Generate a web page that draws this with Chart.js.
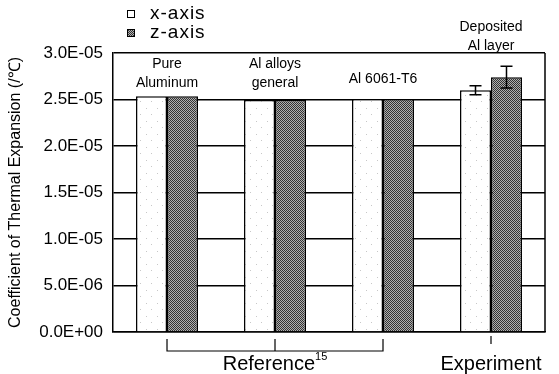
<!DOCTYPE html>
<html>
<head>
<meta charset="utf-8">
<script src="https://cdn.jsdelivr.net/npm/chart.js@4.4.1/dist/chart.umd.min.js"></script>
<style>
  body { margin: 0; background: #fff; }
  #wrap { width: 559px; height: 374px; position: relative; }
</style>
</head>
<body>
<div id="wrap"><canvas id="grafico"></canvas></div>
<script>
// data
const categories = [['Pure', 'Aluminum'], ['Al alloys', 'general'], ['Al 6061-T6'], ['Deposited', 'Al layer']];
const xAxisValues = [2.535e-5, 2.495e-5, 2.505e-5, 2.60e-5];
const zAxisValues = [2.535e-5, 2.495e-5, 2.505e-5, 2.74e-5];
const xAxisErrors = [0, 0, 0, 0.048e-5];
const zAxisErrors = [0, 0, 0, 0.117e-5];
const yTicks = [0, 5e-6, 1e-5, 1.5e-5, 2e-5, 2.5e-5, 3e-5];
const groupNames = ['Reference', 'Experiment'];
const groupSup = ['15', ''];
const groupStart = [0, 3];
const groupEnd = [2, 3];

const FONT = '"Liberation Sans", Arial, sans-serif';
// gap between the taller bar and the last label line, px
const labelGap = [13, 17, 20, 31];

function makePattern(dark) {
    const c = document.createElement('canvas');
    const g = c.getContext('2d');
    if (dark) {
        c.width = 4; c.height = 4;
        g.fillStyle = '#b0b0b0';
        g.fillRect(0, 0, 4, 4);
        g.fillStyle = '#333';
        for (let i = 0; i < 4; i++) {
            g.fillRect(i, i, 1, 1);
            g.fillRect((i + 2) % 4, i, 1, 1);
        }
    } else {
        c.width = 11; c.height = 13;
        g.fillStyle = '#ffffff';
        g.fillRect(0, 0, 11, 13);
        g.fillStyle = '#c8c8c8';
        g.fillRect(3, 4, 1, 1);
        g.fillRect(8, 10, 1, 1);
    }
    return g.createPattern(c, 'repeat');
}

const fillX = makePattern(false);
const fillZ = makePattern(true);

function sci(v) {
    if (Math.abs(v) < 1e-12) return '0.0E+00';
    const s = v.toExponential(1).toUpperCase();
    const parts = s.split('E');
    const e = parseInt(parts[1], 10);
    const sign = e < 0 ? '-' : '+';
    return parts[0] + 'E' + sign + String(Math.abs(e)).padStart(2, '0');
}

const extras = {
    id: 'extras',
    afterDatasetsDraw(chart) {
        const c = chart.ctx;
        const area = chart.chartArea;
        const xs = chart.scales.x;
        const ys = chart.scales.y;
        c.save();
        c.strokeStyle = '#000';
        c.fillStyle = '#000';

        // right side of the frame
        c.lineWidth = 1.5;
        c.beginPath();
        c.moveTo(area.right, area.top);
        c.lineTo(area.right, area.bottom);
        c.stroke();

        // error bars
        const errs = [xAxisErrors, zAxisErrors];
        chart.data.datasets.forEach((ds, di) => {
            const meta = chart.getDatasetMeta(di);
            meta.data.forEach((bar, i) => {
                const e = errs[di][i];
                if (!e) return;
                const v = ds.data[i];
                const yTop = ys.getPixelForValue(v + e);
                const yBot = ys.getPixelForValue(v - e);
                c.lineWidth = 1.5;
                c.beginPath();
                c.moveTo(bar.x, yTop); c.lineTo(bar.x, yBot);
                c.moveTo(bar.x - 6, yTop); c.lineTo(bar.x + 6, yTop);
                c.moveTo(bar.x - 6, yBot); c.lineTo(bar.x + 6, yBot);
                c.stroke();
            });
        });

        // category names above the bars
        c.font = '14px ' + FONT;
        c.textAlign = 'center';
        c.textBaseline = 'middle';
        categories.forEach((lines, i) => {
            const x = xs.getPixelForValue(i);
            const top = ys.getPixelForValue(Math.max(xAxisValues[i], zAxisValues[i]));
            const n = lines.length;
            lines.forEach((t, k) => {
                c.fillText(t, x, top - labelGap[i] - (n - 1 - k) * 19);
            });
        });

        // group brackets under the axis
        c.lineWidth = 1.2;
        groupNames.forEach((name, gi) => {
            const x0 = xs.getPixelForValue(groupStart[gi]);
            const x1 = xs.getPixelForValue(groupEnd[gi]);
            const xm = (x0 + x1) / 2;
            const yb = area.bottom + 19;
            c.beginPath();
            if (x1 > x0) {
                c.moveTo(x0, area.bottom + 7); c.lineTo(x0, yb);
                c.lineTo(x1, yb); c.lineTo(x1, area.bottom + 7);
                c.moveTo(xm, area.bottom + 7); c.lineTo(xm, yb);
            } else {
                c.moveTo(xm, area.bottom + 4); c.lineTo(xm, area.bottom + 12);
            }
            c.stroke();
            c.font = '20px ' + FONT;
            const w = c.measureText(name).width;
            c.font = '11px ' + FONT;
            const ws = groupSup[gi] ? c.measureText(groupSup[gi]).width : 0;
            const left = xm - (w + ws) / 2;
            c.textAlign = 'left';
            c.font = '20px ' + FONT;
            c.fillText(name, left, area.bottom + 32);
            if (ws) {
                c.font = '11px ' + FONT;
                c.fillText(groupSup[gi], left + w, area.bottom + 25);
            }
        });

        // legend
        c.font = '19px ' + FONT;
        c.letterSpacing = '1px';
        c.textAlign = 'left';
        chart.data.datasets.forEach((ds, di) => {
            const y = 14 + di * 19;
            c.fillStyle = ds.backgroundColor;
            c.fillRect(127, y - 4, 8, 8);
            c.lineWidth = 1;
            c.strokeRect(127.5, y - 3.5, 7, 7);
            c.fillStyle = '#000';
            c.fillText(ds.label, 150, y);
        });
        c.restore();
    }
};

const ctx = document.getElementById('grafico');

const myChart = new Chart(ctx, {
    type: 'bar',
    data: {
        labels: categories.map(l => l.join(' ')),
        datasets: [{
            label: 'x-axis',
            data: xAxisValues,
            backgroundColor: fillX,
            borderColor: '#000',
            borderWidth: 1.5
        }, {
            label: 'z-axis',
            data: zAxisValues,
            backgroundColor: fillZ,
            borderColor: '#000',
            borderWidth: 1.5
        }]
    },
    options: {
        responsive: true,
        maintainAspectRatio: false,
        animation: false,
        layout: {
            padding: { top: 53, right: 14, bottom: 34, left: 4 }
        },
        datasets: {
            bar: {
                categoryPercentage: 0.574,
                barPercentage: 1.0
            }
        },
        plugins: {
            legend: { display: false },
            tooltip: { enabled: false }
        },
        scales: {
            x: {
                ticks: { display: false },
                grid: { display: false },
                border: { display: true, color: '#000', width: 1.5 }
            },
            y: {
                min: 0,
                max: 3e-5,
                afterBuildTicks(scale) {
                    scale.ticks = yTicks.map(v => ({ value: v }));
                },
                ticks: {
                    color: '#000',
                    padding: 10,
                    font: { family: FONT, size: 17 },
                    callback: v => sci(v)
                },
                grid: {
                    color: '#000',
                    lineWidth: 1.5,
                    drawTicks: false
                },
                border: { display: true, color: '#000', width: 1.5 },
                title: {
                    display: true,
                    text: 'Coefficient of Thermal Expansion (/℃)',
                    color: '#000',
                    font: { family: FONT, size: 16 },
                    padding: { top: 2, bottom: 4 }
                }
            }
        }
    },
    plugins: [extras]
});
</script>
</body>
</html>
